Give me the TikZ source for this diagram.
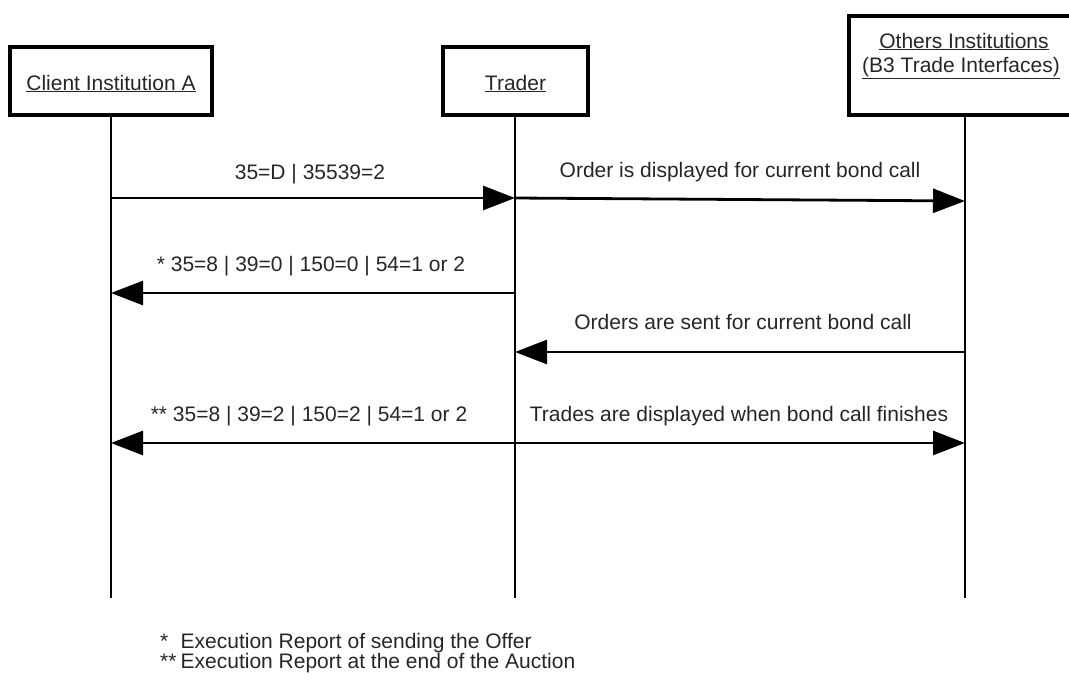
\documentclass[tikz,border=0pt]{standalone}
\usepackage{fontspec}
\setmainfont{Liberation Sans}
\usetikzlibrary{arrows.meta}
\begin{document}
\begin{tikzpicture}[x=1pt,y=-1pt,
  actor/.style={draw,line width=3.2pt,inner sep=0pt},
  life/.style={line width=2.8pt},
  msg/.style={line width=2.8pt,-{Triangle[length=32pt,width=24pt]}},
  lbl/.style={font=\fontsize{21}{24}\selectfont,inner sep=0pt,anchor=base,text=black!85}
]
\useasboundingbox (0,0) rectangle (1069,683);
\clip (0,0) rectangle (1069,683);

% participant boxes
\node[actor,minimum width=202pt,minimum height=68pt] (client) at (111,81) {};
\node[actor,minimum width=145pt,minimum height=68pt] (trader) at (515.5,81) {};
\node[actor,minimum width=232pt,minimum height=99pt] (others) at (965,65.5) {};

\node[lbl] (clientlbl) at (111,90) {\underline{Client Institution A}};
\node[lbl] (traderlbl) at (515.5,90) {\underline{Trader}};
\node[lbl] (otherslbla) at (964,48) {\underline{Others Institutions}};
\node[lbl] (otherslblb) at (961,72) {\underline{(B3 Trade Interfaces)}};

% lifelines
\coordinate (cend) at (111,598);
\coordinate (tend) at (515,598);
\coordinate (oend) at (965,598);
\draw[life] (client.south) -- (cend);
\draw[life] (trader.south -| tend) -- (tend);
\draw[life] (others.south -| oend) -- (oend);

% message anchor points on the lifelines
\coordinate (c1) at (111,198);  \coordinate (t1) at (515,198);
\coordinate (t2) at (515,198);  \coordinate (o2) at (965,201);
\coordinate (t3) at (515,293);  \coordinate (c3) at (111,293);
\coordinate (o4) at (965,352);  \coordinate (t4) at (515,352);
\coordinate (t5) at (515,443);  \coordinate (c5) at (111,443);
\coordinate (o5) at (965,443);

% messages
\draw[msg] (c1) -- (t1);
\draw[msg] (t2) -- (o2);
\draw[msg] (t3) -- (c3);
\draw[msg] (o4) -- (t4);
\draw[msg] (t5) -- (c5);
\draw[msg] (t5) -- (o5);

% message labels
\node[lbl] (m1) at (310,179) {35=D | 35539=2};
\node[lbl] (m2) at (740,177) {Order is displayed for current bond call};
\node[lbl] (m3) at (311,271) {* 35=8 | 39=0 | 150=0 | 54=1 or 2};
\node[lbl] (m4) at (743,329) {Orders are sent for current bond call};
\node[lbl] (m5) at (309,421) {** 35=8 | 39=2 | 150=2 | 54=1 or 2};
\node[lbl] (m6) at (739,421) {Trades are displayed when bond call finishes};

% footnotes
\node[lbl,anchor=base west,align=left,font=\fontsize{21}{20}\selectfont] (notes) at (160,668)
  {\makebox[20.5pt][l]{*}Execution Report of sending the Offer\\
   \makebox[20.5pt][l]{**}Execution Report at the end of the Auction};
\end{tikzpicture}
\end{document}
